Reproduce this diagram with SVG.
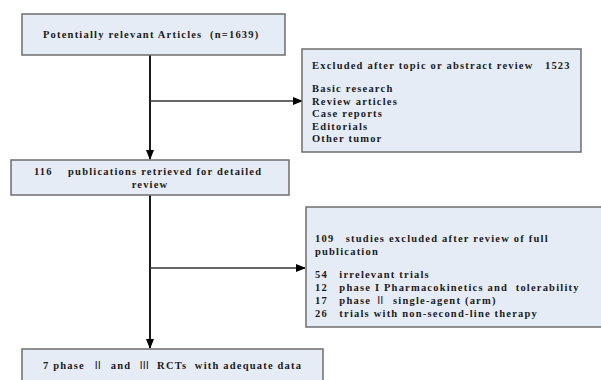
<svg xmlns="http://www.w3.org/2000/svg" width="601" height="380" viewBox="0 0 601 380">
<defs>
<style>
.box{fill:#e6ecf6;stroke:#6e6e6e;stroke-width:1.5}
.t{font-family:"Liberation Serif","Times New Roman",serif;font-weight:bold;font-size:10.5px;letter-spacing:1.2px;fill:#1a1a1a;white-space:pre}
.r{font-family:"Noto Sans CJK SC",sans-serif;font-weight:normal;letter-spacing:0}
.c{text-anchor:middle}
.ln{stroke:#1a1a1a;stroke-width:2;fill:none}
.hl{stroke:#333;stroke-width:1.5;fill:none}
</style>
<marker id="ah" markerWidth="10" markerHeight="10" refX="9" refY="5" orient="auto" markerUnits="userSpaceOnUse">
<path d="M0,1 L10,5 L0,9 Z" fill="#000"/>
</marker>
</defs>
<rect width="601" height="380" fill="#fff"/>
<g id="connectors">
<line class="ln" x1="150" y1="55" x2="150" y2="159" marker-end="url(#ah)"/>
<line class="hl" x1="150" y1="101" x2="302" y2="101" marker-end="url(#ah)"/>
<line class="ln" x1="150" y1="195" x2="150" y2="348" marker-end="url(#ah)"/>
<line class="hl" x1="150" y1="268" x2="305" y2="268" marker-end="url(#ah)"/>
</g>
<g id="n1">
<rect class="box" x="22" y="14" width="263" height="41"/>
<text class="t" x="43" y="38" xml:space="preserve">Potentially relevant Articles  (n=1639)</text>
</g>
<g id="n2">
<rect class="box" x="302" y="49" width="279" height="103"/>
<text class="t" x="312" y="69" xml:space="preserve">Excluded after topic or abstract review   1523</text>
<text class="t" x="312" y="92">Basic research</text>
<text class="t" x="312" y="104.5">Review articles</text>
<text class="t" x="312" y="117">Case reports</text>
<text class="t" x="312" y="129.5">Editorials</text>
<text class="t" x="312" y="142">Other tumor</text>
</g>
<g id="n3">
<rect class="box" x="11" y="160" width="278" height="35"/>
<text class="t" x="34" y="175" xml:space="preserve">116    publications retrieved for detailed</text>
<text class="t c" x="150" y="188">review</text>
</g>
<g id="n4">
<rect class="box" x="306" y="207" width="300" height="120"/>
<text class="t" x="315" y="242" xml:space="preserve">109   studies excluded after review of full</text>
<text class="t" x="315" y="255">publication</text>
<text class="t" x="315" y="278" xml:space="preserve">54   irrelevant trials</text>
<text class="t" x="315" y="291" xml:space="preserve">12   phase I Pharmacokinetics and  tolerability</text>
<text class="t" x="315" y="304" xml:space="preserve">17   phase <tspan class="r">Ⅱ</tspan>  single-agent (arm)</text>
<text class="t" x="315" y="317" xml:space="preserve">26   trials with non-second-line therapy</text>
</g>
<g id="n5">
<rect class="box" x="22" y="349" width="301" height="40"/>
<text class="t" x="43" y="369" xml:space="preserve">7 phase  <tspan class="r">Ⅱ</tspan>  and  <tspan class="r">Ⅲ</tspan>  RCTs  with adequate data</text>
</g>
</svg>
